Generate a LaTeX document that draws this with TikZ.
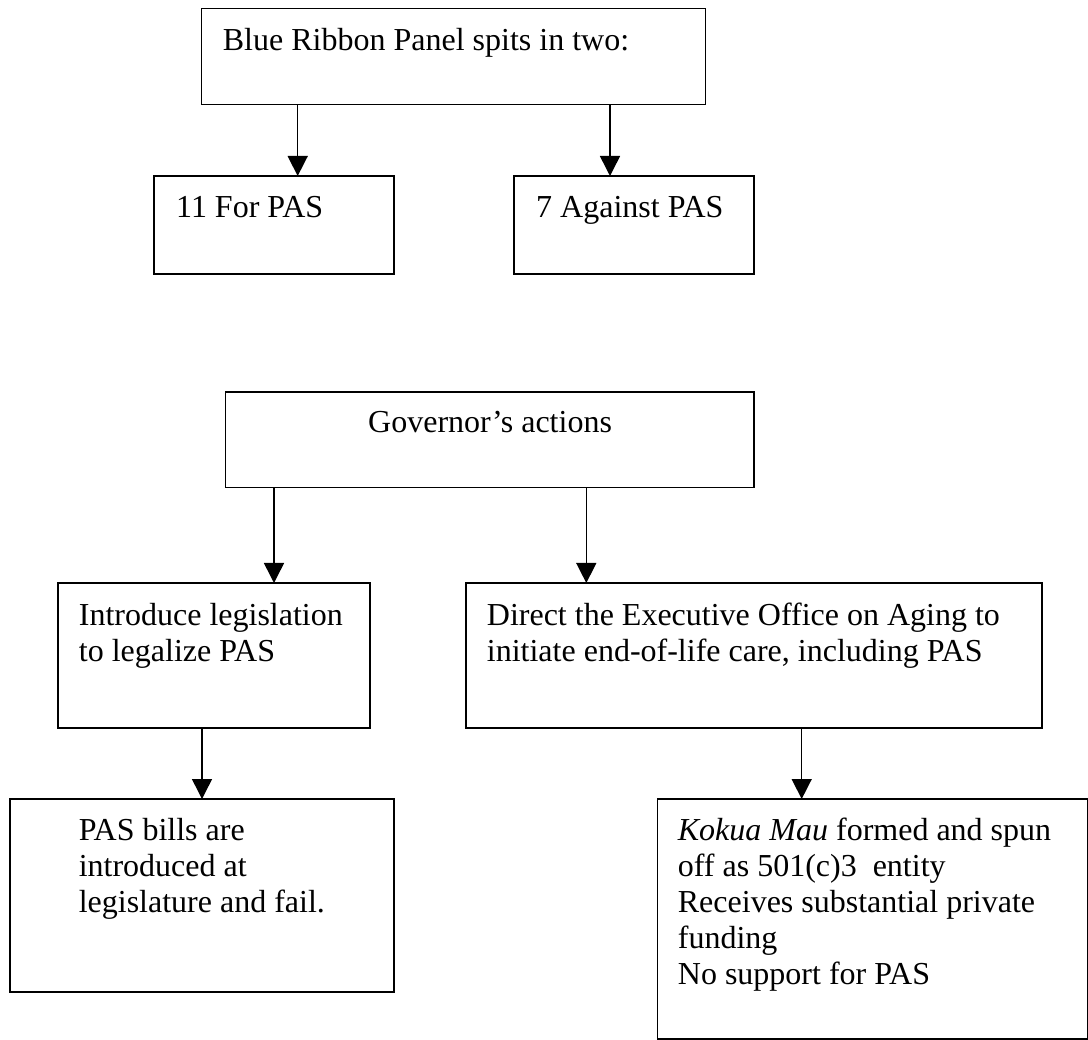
\documentclass[tikz,border=0pt]{standalone}
\usepackage{fontspec}
\setmainfont{Liberation Serif}
\usetikzlibrary{arrows.meta}
\begin{document}
\begin{tikzpicture}[x=1pt,y=-1pt,
  box/.style={draw=black, line width=1.5pt, rectangle, inner sep=0pt, outer sep=0pt, anchor=north west},
  txt/.style={anchor=north west, inner sep=0pt, align=left, font=\fontsize{32}{36}\selectfont},
  arr/.style={line width=1.5pt, -{Triangle[width=20pt,length=20pt]}}]
\useasboundingbox (0,0) rectangle (1088,1040);
% boxes
\node[box, minimum width=504pt, minimum height=96pt] (b1) at (201.7,8.3) {};
\node[box, minimum width=240pt, minimum height=98pt] (fpas) at (154,176) {};
\node[box, minimum width=240pt, minimum height=98pt] (apas) at (514,176) {};
\node[box, minimum width=528.3pt, minimum height=95.7pt] (gov) at (225.7,392) {};
\node[box, minimum width=312pt, minimum height=145pt] (intro) at (58,583) {};
\node[box, minimum width=576pt, minimum height=145pt] (direct) at (466,583) {};
\node[box, minimum width=384pt, minimum height=193pt] (bills) at (10,799) {};
\node[box, minimum width=430.4pt, minimum height=240pt] (kokua) at (657.6,799) {};
% texts
\node[txt] (t1) at (222.7,24.8) {\strut Blue Ribbon Panel spits in two:};
\node[txt] (tf) at (176,191.8) {\strut 11 For PAS};
\node[txt] (ta) at (536,191.8) {\strut 7 Against PAS};
\node[txt] (tg) at (368,406.8) {\strut Governor’s actions};
\node[txt] (ti) at (78.7,599.8) {\strut Introduce legislation\\to legalize PAS};
\node[txt] (td) at (486.7,599.8) {\strut Direct the Executive Office on Aging to\\initiate end-of-life care, including PAS};
\node[txt] (tb) at (78.6,814.8) {\strut PAS bills are\\introduced at\\legislature and fail.};
\node[txt] (tk) at (677.7,814.8) {\strut \textit{Kokua Mau} formed and spun\\off as 501(c)3~ entity\\Receives substantial private\\funding\\No support for PAS};
% arrow x positions
\coordinate (x1) at (297.7,0);
\coordinate (x2) at (610,0);
\coordinate (x3) at (274,0);
\coordinate (x4) at (586.3,0);
\coordinate (x5) at (202,0);
\coordinate (x6) at (801.7,0);
% connectors
\draw[arr] (b1.south -| x1) -- (fpas.north -| x1);
\draw[arr] (b1.south -| x2) -- (apas.north -| x2);
\draw[arr] (gov.south -| x3) -- (intro.north -| x3);
\draw[arr] (gov.south -| x4) -- (direct.north -| x4);
\draw[arr] (intro.south -| x5) -- (bills.north -| x5);
\draw[arr] (direct.south -| x6) -- (kokua.north -| x6);
\end{tikzpicture}
\end{document}
